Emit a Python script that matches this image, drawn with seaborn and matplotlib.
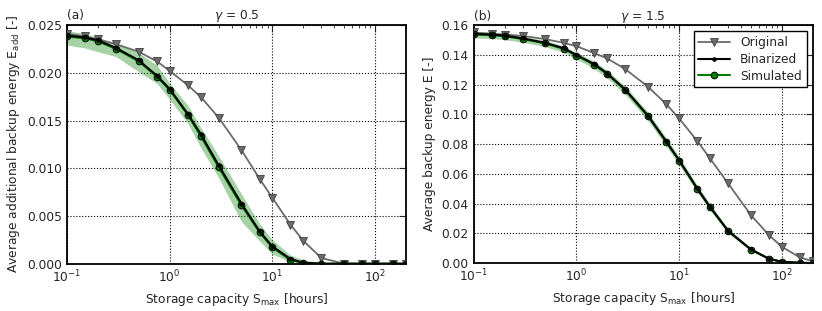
import pandas as pd
import numpy as np
import matplotlib
matplotlib.use("Agg")
import matplotlib.pyplot as plt
import seaborn as sns
from matplotlib.ticker import FormatStrFormatter, MultipleLocator

storage = [0.1, 0.15, 0.2, 0.3, 0.5, 0.75, 1, 1.5, 2, 3, 5, 7.5, 10, 15, 20, 30, 50, 75, 100, 150, 200]

# gamma = 0.5
orig_a = [0.0241, 0.0238, 0.0235, 0.0230, 0.0222, 0.0212, 0.0202, 0.0187, 0.0175, 0.0153, 0.0119,
          0.0089, 0.0069, 0.0041, 0.0024, 0.0006, 0.0, 0.0, 0.0, 0.0, 0.0]
bin_a = [0.0239, 0.0237, 0.0234, 0.0226, 0.0213, 0.0197, 0.0183, 0.0157, 0.0136, 0.0103, 0.0063,
         0.0034, 0.0018, 0.0005, 0.0001, 0.0, 0.0, 0.0, 0.0, 0.0, 0.0]
sim_a = [0.0238, 0.0236, 0.0233, 0.0225, 0.0212, 0.0196, 0.0182, 0.0156, 0.0134, 0.0101, 0.0061,
         0.0033, 0.0017, 0.0004, 0.0001, 0.0, 0.0, 0.0, 0.0, 0.0, 0.0]
sim_a_low = [0.0229, 0.0226, 0.0222, 0.0217, 0.0201, 0.0189, 0.0172, 0.0147, 0.0122, 0.0090, 0.0044,
             0.0024, 0.0010, 0.0002, 0.00005, 0.0, 0.0, 0.0, 0.0, 0.0, 0.0]
sim_a_high = [0.0244, 0.0241, 0.0237, 0.0231, 0.0221, 0.0208, 0.0189, 0.0166, 0.0143, 0.0113, 0.0073,
              0.0042, 0.0025, 0.0009, 0.0004, 0.0001, 0.0, 0.0, 0.0, 0.0, 0.0]

# gamma = 1.5
orig_b = [0.1551, 0.1542, 0.1537, 0.1528, 0.1506, 0.1481, 0.1459, 0.1412, 0.1376, 0.1304, 0.1185,
          0.1069, 0.0973, 0.0822, 0.0704, 0.0536, 0.0323, 0.0188, 0.0110, 0.0038, 0.0013]
bin_b = [0.1541, 0.1537, 0.1530, 0.1511, 0.1481, 0.1445, 0.1400, 0.1337, 0.1275, 0.1166, 0.0990,
         0.0818, 0.0692, 0.0502, 0.0378, 0.0217, 0.0092, 0.0029, 0.0009, 0.0002, 0.0]
sim_b = [0.1538, 0.1533, 0.1526, 0.1507, 0.1477, 0.1441, 0.1396, 0.1333, 0.1271, 0.1162, 0.0986,
         0.0815, 0.0689, 0.0500, 0.0376, 0.0216, 0.0091, 0.0029, 0.0009, 0.0002, 0.0]
sim_b_low = [0.1515, 0.1510, 0.1503, 0.1485, 0.1455, 0.1418, 0.1372, 0.1307, 0.1243, 0.1133, 0.0957,
             0.0786, 0.0662, 0.0476, 0.0356, 0.0200, 0.0082, 0.0024, 0.0006, 0.0001, 0.0]
sim_b_high = [0.1558, 0.1553, 0.1546, 0.1527, 0.1497, 0.1461, 0.1417, 0.1356, 0.1295, 0.1188, 0.1013,
              0.0842, 0.0716, 0.0525, 0.0398, 0.0233, 0.0102, 0.0035, 0.0012, 0.0003, 0.0001]

sns.set_style("white")
plt.rcParams["font.family"] = ["DejaVu Sans"]
plt.rcParams["font.size"] = 8.8

fig = plt.figure(figsize=(8.22, 3.11), dpi=100)
ax_a = fig.add_axes([0.0815, 0.152, 0.4124, 0.7675])
ax_b = fig.add_axes([0.5763, 0.154, 0.4124, 0.765])

panels = [
    (ax_a, orig_a, bin_a, sim_a, sim_a_low, sim_a_high, "(a)", r"$\gamma$ = 0.5",
     r"Average additional backup energy E$_{\rm add}$ [-]", 0.025, 0.005, "%.3f"),
    (ax_b, orig_b, bin_b, sim_b, sim_b_low, sim_b_high, "(b)", r"$\gamma$ = 1.5",
     "Average backup energy E [-]", 0.16, 0.02, "%.2f"),
]

for ax, orig, binz, sim, lo, hi, tag, title, ylab, ymax, ystep, fmt in panels:
    df = pd.DataFrame({"S": storage, "orig": orig, "bin": binz, "sim": sim})
    ax.fill_between(storage, lo, hi, color="#3a9e3a", alpha=0.45, lw=0, zorder=1)
    sns.lineplot(data=df, x="S", y="orig", ax=ax, color="0.42", lw=1.3, marker="v",
                 markersize=5.5, markerfacecolor="0.42", markeredgecolor="0.25",
                 markeredgewidth=0.6, label="Original", zorder=3)
    sns.lineplot(data=df, x="S", y="sim", ax=ax, color="green", lw=1.5, marker="o",
                 markersize=4.8, markerfacecolor="green", markeredgecolor="black",
                 markeredgewidth=0.7, label="Simulated", zorder=4)
    sns.lineplot(data=df, x="S", y="bin", ax=ax, color="black", lw=1.5, marker="o",
                 markersize=2.5, markerfacecolor="black", markeredgecolor="black",
                 label="Binarized", zorder=5)
    ax.set_xscale("log")
    ax.set_xlim(0.1, 200)
    ax.set_ylim(0, ymax)
    ax.yaxis.set_major_locator(MultipleLocator(ystep))
    ax.yaxis.set_major_formatter(FormatStrFormatter(fmt))
    ax.grid(True, which="major", color="black", linestyle=":", linewidth=0.8)
    ax.tick_params(which="both", direction="in", top=True, right=True, labelsize=8.8)
    ax.tick_params(which="major", length=5, width=0.8)
    ax.tick_params(which="minor", length=2.5, width=0.6)
    for sp in ax.spines.values():
        sp.set_linewidth(1.3)
        sp.set_color("black")
    ax.set_xlabel(r"Storage capacity S$_{\rm max}$ [hours]", fontsize=8.8)
    ax.set_ylabel(ylab, fontsize=8.8)
    ax.set_title(title, fontsize=8.8, pad=6)
    ax.set_title(tag, loc="left", fontsize=8.8, pad=4)
    ax.get_legend().remove()

handles, labels = ax_b.get_legend_handles_labels()
order = [labels.index(n) for n in ["Original", "Binarized", "Simulated"]]
leg = ax_b.legend([handles[i] for i in order], [labels[i] for i in order], loc="upper right",
                  fontsize=8.8, frameon=True, fancybox=False, handlelength=2.6,
                  borderaxespad=0.5, labelspacing=0.3)
leg.get_frame().set_edgecolor("black")
leg.get_frame().set_linewidth(1.0)
leg.get_frame().set_alpha(1)

fig.savefig("out.png", dpi=100)
